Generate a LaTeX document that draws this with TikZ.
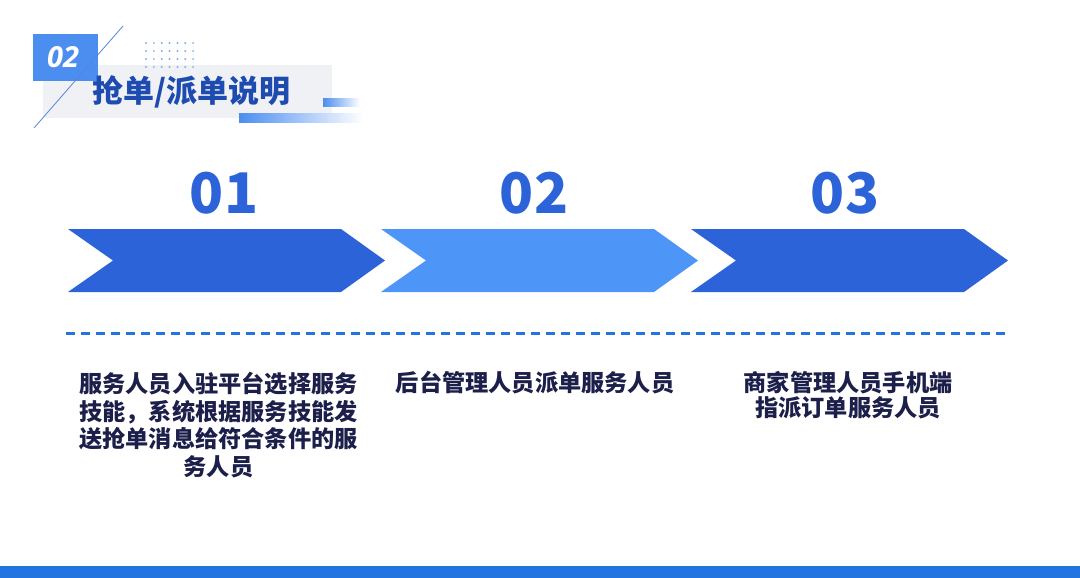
\documentclass[tikz,border=0pt]{standalone}
\usepackage{fontspec}
\setmainfont{Noto Sans CJK SC}
\newfontfamily\numit{Open Sans}
\usetikzlibrary{shadings}
\definecolor{cdark}{HTML}{2D63D9}
\definecolor{clight}{HTML}{4D95F7}
\definecolor{cbar}{HTML}{2373E0}
\definecolor{ctitle}{HTML}{1E4BB0}
\definecolor{ctext}{HTML}{1B1F4A}
\definecolor{cgray}{HTML}{EFF1F5}
\definecolor{csq}{HTML}{4B8EF0}
\definecolor{cdot}{HTML}{7FAEF5}
\tikzset{
  numlbl/.style={font=\fontsize{56}{56}\selectfont\bfseries, text=cdark, inner sep=0pt},
  desc/.style={font=\fontsize{23.2}{27.5}\selectfont\bfseries, text=ctext, align=center, inner sep=0pt},
}
\begin{document}
\begin{tikzpicture}[x=1pt,y=-1pt]
\useasboundingbox (0,0) rectangle (1080,578);
\fill[white] (0,0) rectangle (1080,578);
% header
\fill[cgray] (43,65) rectangle (332,118);
\fill[csq] (33,34) rectangle (98,81);
\draw[color=cdark!80, line width=0.8pt] (123,26) -- (34,128);
\node[font=\numit\fontsize{29}{29}\selectfont\bfseries\itshape, text=white, inner sep=0pt] (sqnum) at (63,57) {02};
\node[font=\fontsize{31}{31}\selectfont\bfseries, text=ctitle, inner sep=0pt, anchor=west] (title) at (92,92) {抢单/派单说明};
\foreach \i in {0,...,6}{\foreach \j in {0,...,3}{
  \fill[cdot] (146+\i*7.85,43+\j*8) circle (1.1);
}}
\shade[left color=csq, right color=white] (323,99) rectangle (360,107);
\shade[left color=csq, right color=white] (239,114) rectangle (363,122);
% chevrons
\fill[cdark] (68,229) -- (341,229) -- (385,260.5) -- (341,292) -- (68,292) -- (113,260.5) -- cycle;
\fill[clight] (381,229) -- (654,229) -- (698,260.5) -- (654,292) -- (381,292) -- (426,260.5) -- cycle;
\fill[cdark] (691,229) -- (964,229) -- (1008,260.5) -- (964,292) -- (691,292) -- (736,260.5) -- cycle;
\node[numlbl] (n1) at (224,193.5) {01};
\node[numlbl] (n2) at (534,193.5) {02};
\node[numlbl] (n3) at (845,193.5) {03};
% dashed line
\coordinate (dl) at (66,333);
\coordinate (dr) at (1005,333);
\draw[cbar, line width=3pt, dash pattern=on 9pt off 6pt] (dl) -- (dr);
% descriptions
\node[desc] (t1) at (218.5,425) {服务人员入驻平台选择服务\\技能，系统根据服务技能发\\送抢单消息给符合条件的服\\务人员};
\node[desc] (t2) at (535,383) {后台管理人员派单服务人员};
\node[desc, font=\fontsize{23.2}{25}\selectfont\bfseries] (t3) at (848,395) {商家管理人员手机端\\指派订单服务人员};
% bottom bar
\fill[cbar] (0,566) rectangle (1080,578);
\end{tikzpicture}
\end{document}
